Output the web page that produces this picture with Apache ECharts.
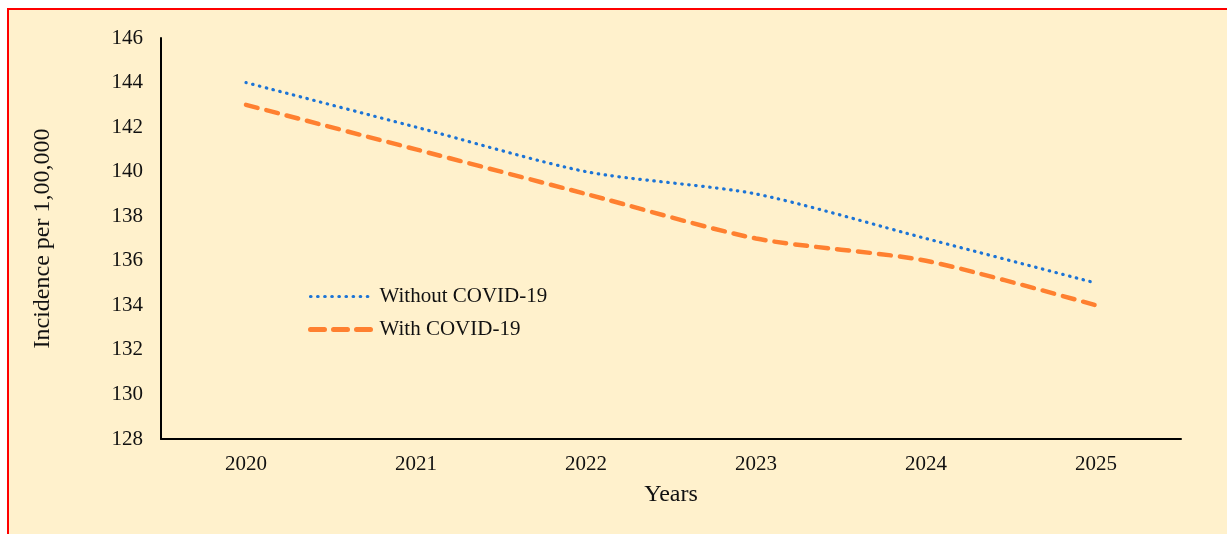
<!DOCTYPE html>
<html>
<head>
<meta charset="utf-8">
<script src="https://cdn.jsdelivr.net/npm/echarts@6/dist/echarts.min.js"></script>
<style>
html,body{margin:0;padding:0;background:#fff;}
#frame{position:absolute;left:7px;top:8px;width:1240px;height:560px;background:#FFF1CC;border-top:2px solid #FF0000;border-left:2px solid #FF0000;}
#chart{position:absolute;left:0;top:0;width:1227px;height:534px;}
</style>
</head>
<body>
<div id="frame"></div>
<div id="chart"></div>
<script>
const years = ['2020','2021','2022','2023','2024','2025'];
const withoutCovid = [144, 142, 140, 139, 137, 135];
const withCovid = [143, 141, 139, 137, 136, 134];
const seriesNames = ['Without COVID-19', 'With COVID-19'];

const chart = echarts.init(document.getElementById('chart'), null, {renderer:'canvas'});
const font = 'Liberation Serif';
chart.setOption({
  backgroundColor: 'transparent',
  animation: false,
  textStyle: {fontFamily: font},
  grid: {left: 161, right: 46, top: 38, bottom: 95, containLabel: false},
  legend: {
    orient: 'vertical', left: 303, top: 281, itemGap: 12, itemWidth: 62, itemHeight: 21,
    itemStyle: {opacity: 0},
    textStyle: {fontFamily: font, fontSize: 21, color: '#111', padding: [0,0,0,2]},
    data: [
      {name: seriesNames[0], lineStyle: {width: 3.2, type: [0.5, 6.6], cap: 'round'}},
      {name: seriesNames[1], lineStyle: {width: 5, type: [14, 9], cap: 'round'}}
    ]
  },
  xAxis: {
    type: 'category', data: years, boundaryGap: true,
    name: 'Years', nameLocation: 'middle', nameGap: 44,
    nameTextStyle: {fontFamily: font, fontSize: 24, color: '#111'},
    axisLine: {lineStyle: {color: '#000', width: 2}},
    axisTick: {show: false},
    axisLabel: {fontFamily: font, fontSize: 21, color: '#111', margin: 15},
    splitLine: {show: false}
  },
  yAxis: {
    type: 'value', min: 128, max: 146, interval: 2,
    name: 'Incidence per 1,00,000', nameLocation: 'middle', nameGap: 106, nameRotate: 90,
    nameTextStyle: {fontFamily: font, fontSize: 24, color: '#111'},
    axisLine: {show: true, lineStyle: {color: '#000', width: 2}},
    axisTick: {show: false},
    axisLabel: {fontFamily: font, fontSize: 21, color: '#111', margin: 18},
    splitLine: {show: false}
  },
  series: [
    {
      name: seriesNames[0], type: 'line', data: withoutCovid, smooth: 0.25,
      symbol: 'none', color: '#1C74D6',
      lineStyle: {color: '#1C74D6', width: 3.2, type: [0.5, 6.5], cap: 'round'}
    },
    {
      name: seriesNames[1], type: 'line', data: withCovid, smooth: 0.25,
      symbol: 'none', color: '#FF8030',
      lineStyle: {color: '#FF8030', width: 4.5, type: [12, 9], cap: 'round'}
    }
  ]
});
</script>
</body>
</html>
